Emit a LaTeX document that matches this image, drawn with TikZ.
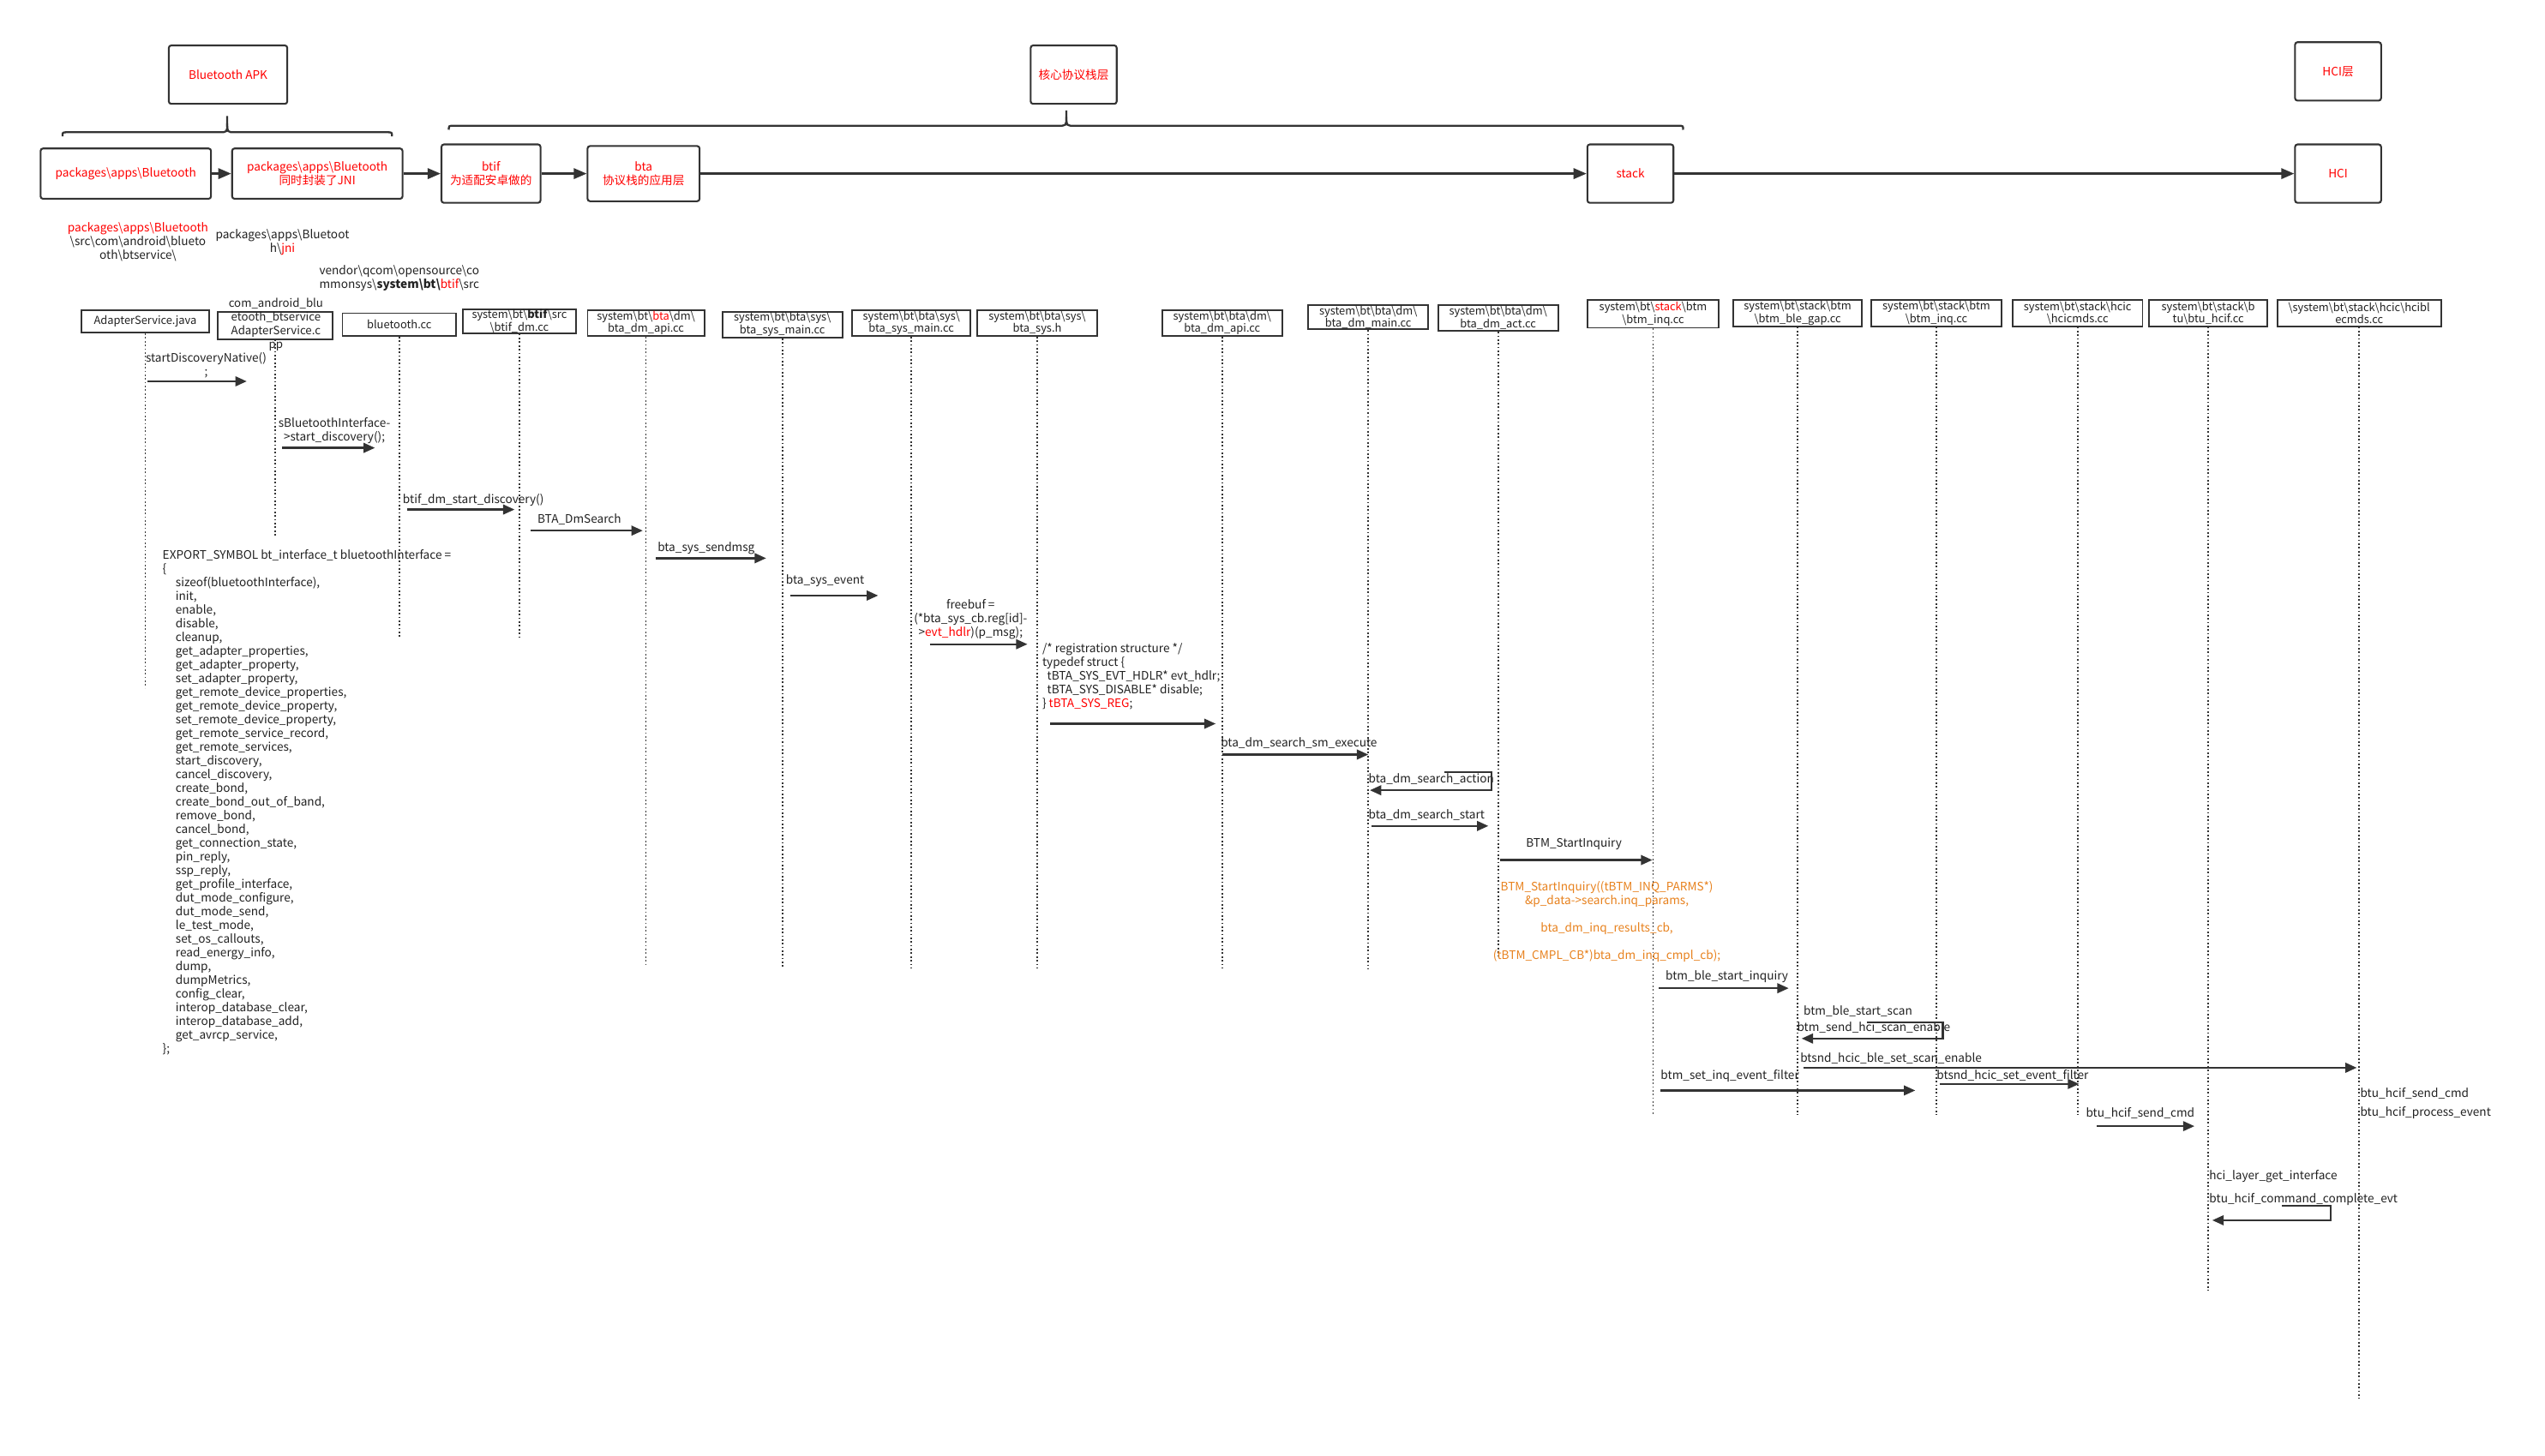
\documentclass[tikz,border=0pt]{standalone}
\usepackage{fontspec}
\setmainfont{Noto Sans CJK SC}
\usetikzlibrary{arrows.meta}
\definecolor{ink}{HTML}{333333}
\definecolor{txt}{HTML}{222222}
\definecolor{redt}{HTML}{FF0000}
\definecolor{oran}{HTML}{E8821E}
\newcommand\bsl{\textbackslash}
\newcommand\rd[1]{\textcolor{redt}{#1}}
\newcommand\ii{\hspace*{8pt}}
\newcommand\mymsg[4]{\coordinate (#1s) at (#2,#4); \coordinate (#1e) at (#3,#4); \draw[msgline] (#1s) -- (#1e);}
\begin{document}
\begin{tikzpicture}[x=1pt,y=-1pt,
  every node/.style={text=txt, font=\fontsize{7.2}{8.45}\selectfont, inner sep=0pt},
  topbox/.style={draw=ink, line width=1.1pt, rounded corners=1.5pt, text=redt, align=center, font=\fontsize{7.2}{8.8}\selectfont},
  hdr/.style={draw=ink, line width=1pt, align=center, font=\fontsize{6.8}{7.8}\selectfont},
  life/.style={draw=ink, line width=0.9pt, dash pattern=on 0.9pt off 1.4pt},
  msgline/.style={draw=ink, line width=1.2pt, -{Triangle[length=7pt,width=6pt]}},
  lbl/.style={anchor=west},
  toparrow/.style={draw=ink, line width=1.3pt, -{Triangle[length=8pt,width=6.5pt]}},
  brace/.style={draw=ink, line width=1.2pt}]
\fill[white] (0,0) rectangle (1568,897);
\useasboundingbox (0,0) rectangle (1568,897);

% ---- top layer boxes
\node[topbox, minimum width=73pt, minimum height=36pt] (apk) at (140.5,46) {Bluetooth APK};
\node[topbox, minimum width=53pt, minimum height=36pt] (core) at (661.5,46) {核心协议栈层};
\node[topbox, minimum width=53pt, minimum height=36pt] (hcil) at (1440.5,44) {HCI层};
\node[topbox, minimum width=105pt, minimum height=31pt] (pk1) at (77.5,107) {packages\bsl{}apps\bsl{}Bluetooth};
\node[topbox, minimum width=105pt, minimum height=31pt] (pk2) at (195.5,107) {packages\bsl{}apps\bsl{}Bluetooth\\同时封装了JNI};
\node[topbox, minimum width=61pt, minimum height=36pt] (btif) at (302.5,107) {btif\\为适配安卓做的};
\node[topbox, minimum width=69pt, minimum height=34pt] (bta) at (396.5,107) {bta\\协议栈的应用层};
\node[topbox, minimum width=53pt, minimum height=36pt] (stack) at (1004.5,107) {stack};
\node[topbox, minimum width=53pt, minimum height=36pt] (hci) at (1440.5,107) {HCI};
\draw[toparrow] (pk1) -- (pk2);
\draw[toparrow] (pk2) -- (btif);
\draw[toparrow] (btif) -- (bta);
\draw[toparrow] (bta) -- (stack);
\draw[toparrow] (stack) -- (hci);

% ---- braces
\draw[brace] (38.5,84) .. controls (38.5,81.5) .. (41.5,81.5) -- (135,81.5) .. controls (140,81.5) .. (140,76) -- (140,71.5);
\draw[brace] (140,76) .. controls (140,81.5) .. (145,81.5) -- (238.5,81.5) .. controls (241.5,81.5) .. (241.5,84);
\draw[brace] (276.5,80) .. controls (276.5,77.5) .. (279.5,77.5) -- (652,77.5) .. controls (657,77.5) .. (657,72) -- (657,68);
\draw[brace] (657,72) .. controls (657,77.5) .. (662,77.5) -- (1034,77.5) .. controls (1037,77.5) .. (1037,80);

% ---- path notes
\node[align=center] (n1) at (85,149) {\rd{packages\bsl{}apps\bsl{}Bluetooth}\\\bsl{}src\bsl{}com\bsl{}android\bsl{}blueto\\oth\bsl{}btservice\bsl{}};
\node[align=center] (n2) at (174,149.5) {packages\bsl{}apps\bsl{}Bluetoot\\h\bsl{}\rd{jni}};
\node[align=center] (n3) at (246,171.5) {vendor\bsl{}qcom\bsl{}opensource\bsl{}co\\mmonsys\bsl{}\textbf{system\bsl{}bt\bsl{}}\rd{btif}\bsl{}src};

% ---- lifeline headers
\node[hdr, minimum width=79pt, minimum height=14pt] (h1) at (89.5,198) {AdapterService.java};
\node[hdr, minimum width=71pt, minimum height=17pt] (h2) at (169.5,200.5) {};
\node[align=center, font=\fontsize{7}{8.4}\selectfont] (h2t) at (170,200) {com\_android\_blu\\etooth\_btservice\\AdapterService.c\\pp};
\node[hdr, minimum width=70pt, minimum height=14pt] (h3) at (246,200) {bluetooth.cc};
\node[hdr, minimum width=70pt, minimum height=14pt] (h4) at (320,198) {system\bsl{}bt\bsl{}\textbf{btif}\bsl{}src\\\bsl{}btif\_dm.cc};
\node[hdr, minimum width=72pt, minimum height=16pt] (h5) at (398,199) {system\bsl{}bt\bsl{}\rd{bta}\bsl{}dm\bsl{}\\bta\_dm\_api.cc};
\node[hdr, minimum width=74pt, minimum height=16pt] (h6) at (482,200) {system\bsl{}bt\bsl{}bta\bsl{}sys\bsl{}\\bta\_sys\_main.cc};
\node[hdr, minimum width=73pt, minimum height=16pt] (h7) at (561.5,199) {system\bsl{}bt\bsl{}bta\bsl{}sys\bsl{}\\bta\_sys\_main.cc};
\node[hdr, minimum width=74pt, minimum height=16pt] (h8) at (639,199) {system\bsl{}bt\bsl{}bta\bsl{}sys\bsl{}\\bta\_sys.h};
\node[hdr, minimum width=74pt, minimum height=16pt] (h9) at (753,199) {system\bsl{}bt\bsl{}bta\bsl{}dm\bsl{}\\bta\_dm\_api.cc};
\node[hdr, minimum width=74pt, minimum height=15pt] (h10) at (843,195.5) {system\bsl{}bt\bsl{}bta\bsl{}dm\bsl{}\\bta\_dm\_main.cc};
\node[hdr, minimum width=74pt, minimum height=16pt] (h11) at (923,196) {system\bsl{}bt\bsl{}bta\bsl{}dm\bsl{}\\bta\_dm\_act.cc};
\node[hdr, minimum width=81pt, minimum height=17pt] (h12) at (1018.5,193.5) {system\bsl{}bt\bsl{}\rd{stack}\bsl{}btm\\\bsl{}btm\_inq.cc};
\node[hdr, minimum width=79pt, minimum height=16pt] (h13) at (1107.5,193) {system\bsl{}bt\bsl{}stack\bsl{}btm\\\bsl{}btm\_ble\_gap.cc};
\node[hdr, minimum width=80pt, minimum height=16pt] (h14) at (1193,193) {system\bsl{}bt\bsl{}stack\bsl{}btm\\\bsl{}btm\_inq.cc};
\node[hdr, minimum width=80pt, minimum height=16pt] (h15) at (1280,193) {system\bsl{}bt\bsl{}stack\bsl{}hcic\\\bsl{}hcicmds.cc};
\node[hdr, minimum width=73pt, minimum height=16pt] (h16) at (1360.5,193) {system\bsl{}bt\bsl{}stack\bsl{}b\\tu\bsl{}btu\_hcif.cc};
\node[hdr, minimum width=101pt, minimum height=16pt] (h17) at (1453.5,193) {\bsl{}system\bsl{}bt\bsl{}stack\bsl{}hcic\bsl{}hcibl\\ecmds.cc};

\foreach \n/\e in {1/424,2/330,3/393,4/393,5/595,6/597,7/597,8/597,9/597,10/597,11/590,12/687,13/687,14/687,15/687,16/795,17/862}
  \draw[life] (h\n.south) -- (h\n.south |- 0,\e);

% ---- interface listing
\node[anchor=north west, align=left] (iface) at (100,338.5) {EXPORT\_SYMBOL bt\_interface\_t bluetoothInterface =\\
\{\\
\ii sizeof(bluetoothInterface),\\
\ii init,\\
\ii enable,\\
\ii disable,\\
\ii cleanup,\\
\ii get\_adapter\_properties,\\
\ii get\_adapter\_property,\\
\ii set\_adapter\_property,\\
\ii get\_remote\_device\_properties,\\
\ii get\_remote\_device\_property,\\
\ii set\_remote\_device\_property,\\
\ii get\_remote\_service\_record,\\
\ii get\_remote\_services,\\
\ii start\_discovery,\\
\ii cancel\_discovery,\\
\ii create\_bond,\\
\ii create\_bond\_out\_of\_band,\\
\ii remove\_bond,\\
\ii cancel\_bond,\\
\ii get\_connection\_state,\\
\ii pin\_reply,\\
\ii ssp\_reply,\\
\ii get\_profile\_interface,\\
\ii dut\_mode\_configure,\\
\ii dut\_mode\_send,\\
\ii le\_test\_mode,\\
\ii set\_os\_callouts,\\
\ii read\_energy\_info,\\
\ii dump,\\
\ii dumpMetrics,\\
\ii config\_clear,\\
\ii interop\_database\_clear,\\
\ii interop\_database\_add,\\
\ii get\_avrcp\_service,\\
\};};

% ---- messages
\node[align=center] (l1) at (127,225) {startDiscoveryNative()\\;};
\mymsg{m1}{91}{152}{235}
\node[align=center] (l2) at (206,265.5) {sBluetoothInterface-\\>start\_discovery();};
\mymsg{m2}{174}{231}{276}
\node[lbl] (l3) at (248,308) {btif\_dm\_start\_discovery()};
\mymsg{m3}{251}{317}{314}
\node[lbl] (l4) at (331,320) {BTA\_DmSearch};
\mymsg{m4}{327}{396}{327}
\node[lbl] (l5) at (405,338) {bta\_sys\_sendmsg};
\mymsg{m5}{404}{472}{344}
\node[lbl] (l6) at (484,358) {bta\_sys\_event};
\mymsg{m6}{487}{541}{367}
\node[align=center] (l7) at (598,381.5) {freebuf =\\(*bta\_sys\_cb.reg[id]-\\>\rd{evt\_hdlr})(p\_msg);};
\mymsg{m7}{573}{633}{397}
\node[align=left, anchor=west] (l8) at (642,417) {/* registration structure */\\typedef struct \{\\\hspace*{3pt}tBTA\_SYS\_EVT\_HDLR* evt\_hdlr;\\\hspace*{3pt}tBTA\_SYS\_DISABLE* disable;\\\} \rd{tBTA\_SYS\_REG};};
\mymsg{m8}{647}{749}{446}
\node[lbl] (l9) at (752,458) {bta\_dm\_search\_sm\_execute};
\mymsg{m9}{753}{843}{465}
\node[lbl] (l10) at (843,480) {bta\_dm\_search\_action};
\coordinate (m10a) at (890,476); \coordinate (m10b) at (919,476); \coordinate (m10c) at (919,487); \coordinate (m10e) at (844,487);
\draw[msgline] (m10a) -- (m10b) -- (m10c) -- (m10e);
\node[lbl] (l11) at (843,502) {bta\_dm\_search\_start};
\mymsg{m11}{845}{917}{509}
\node[lbl] (l12) at (940,520) {BTM\_StartInquiry};
\mymsg{m12}{924}{1018}{530}
\node[align=center, text=oran, anchor=north] (l13) at (990,543) {BTM\_StartInquiry((tBTM\_INQ\_PARMS*)\\\&p\_data->search.inq\_params,\\[8.45pt]bta\_dm\_inq\_results\_cb,\\[8.45pt](tBTM\_CMPL\_CB*)bta\_dm\_inq\_cmpl\_cb);};
\node[lbl] (l14) at (1026,602) {btm\_ble\_start\_inquiry};
\mymsg{m14}{1022}{1102}{609}
\node[lbl] (l15) at (1111,623) {btm\_ble\_start\_scan};
\node[lbl] (l16) at (1107,633) {btm\_send\_hci\_scan\_enable};
\coordinate (m16a) at (1150,630); \coordinate (m16b) at (1197,630); \coordinate (m16c) at (1197,640); \coordinate (m16e) at (1110,640);
\draw[msgline] (m16a) -- (m16b) -- (m16c) -- (m16e);
\node[lbl] (l17) at (1109,652) {btsnd\_hcic\_ble\_set\_scan\_enable};
\mymsg{m17}{1111}{1452}{658}
\node[lbl] (l18) at (1023,663) {btm\_set\_inq\_event\_filter};
\mymsg{m18}{1023}{1180}{672}
\node[lbl] (l19) at (1193,663) {btsnd\_hcic\_set\_event\_filter};
\mymsg{m19}{1195}{1281}{668}
\node[lbl] (l20) at (1454,674) {btu\_hcif\_send\_cmd};
\node[lbl] (l21) at (1454,686) {btu\_hcif\_process\_event};
\node[lbl] (l22) at (1285,686) {btu\_hcif\_send\_cmd};
\mymsg{m22}{1292}{1352}{694}
\node[lbl] (l23) at (1361,725) {hci\_layer\_get\_interface};
\node[lbl] (l24) at (1361,739) {btu\_hcif\_command\_complete\_evt};
\coordinate (m24a) at (1406,743); \coordinate (m24b) at (1436,743); \coordinate (m24c) at (1436,752); \coordinate (m24e) at (1363,752);
\draw[msgline] (m24a) -- (m24b) -- (m24c) -- (m24e);
\end{tikzpicture}
\end{document}
